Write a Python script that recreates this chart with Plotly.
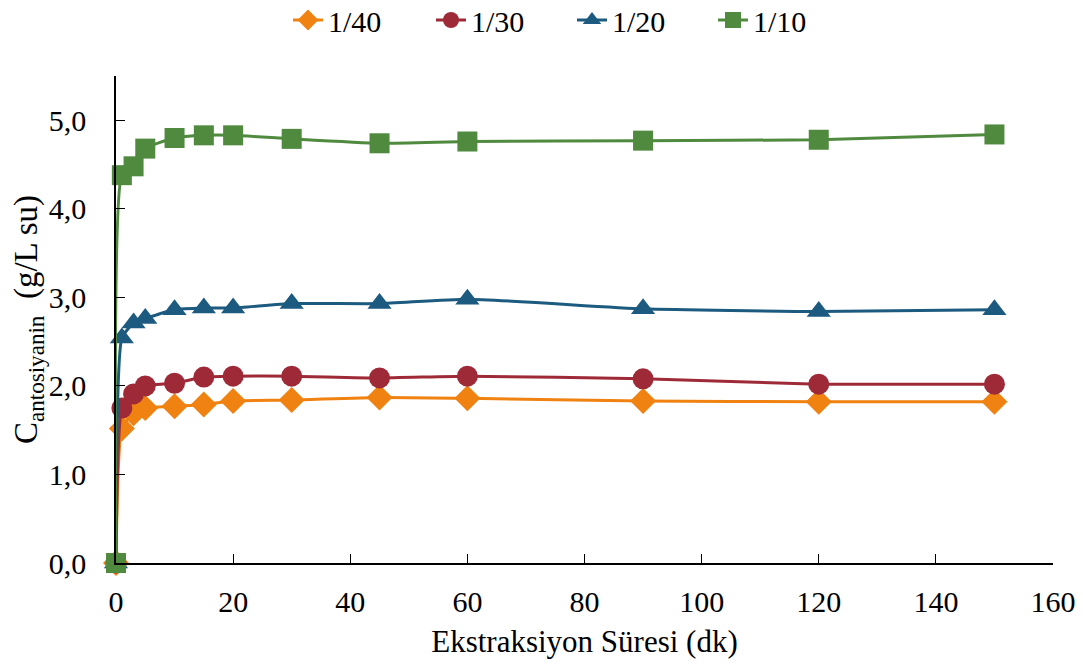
import plotly.graph_objects as go

time_min = [0, 1, 3, 5, 10, 15, 20, 30, 45, 60, 90, 120, 150]
series_names = ["1/40", "1/30", "1/20", "1/10"]
c_1_40 = [0, 1.52, 1.69, 1.75, 1.77, 1.79, 1.83, 1.84, 1.87, 1.86, 1.83, 1.82, 1.82]
c_1_30 = [0, 1.75, 1.91, 2.00, 2.03, 2.10, 2.11, 2.11, 2.09, 2.11, 2.08, 2.02, 2.02]
c_1_20 = [0, 2.54, 2.71, 2.76, 2.86, 2.88, 2.88, 2.93, 2.93, 2.98, 2.87, 2.84, 2.86]
c_1_10 = [0, 4.38, 4.48, 4.68, 4.80, 4.83, 4.83, 4.79, 4.74, 4.76, 4.77, 4.78, 4.84]
y_ticks = [0, 1, 2, 3, 4, 5]
y_tick_labels = ["0,0", "1,0", "2,0", "3,0", "4,0", "5,0"]
x_ticks = [0, 20, 40, 60, 80, 100, 120, 140, 160]

values = [c_1_40, c_1_30, c_1_20, c_1_10]
colors = ["#EF8210", "#9E2A38", "#1D5A7F", "#4F8A3F"]
symbols = ["diamond", "circle", "triangle-up", "square"]
sizes = [20, 21, 21, 20]
legend_ids = ["legend", "legend2", "legend3", "legend4"]
legend_left_px = [280, 423, 564, 705]

font = "Liberation Serif"
W, H = 1075, 656
fig = go.Figure()
for name, vals, col, sym, sz, lid in zip(series_names, values, colors, symbols, sizes, legend_ids):
    fig.add_trace(go.Scatter(
        x=time_min, y=vals, name=name, mode="lines+markers",
        line=dict(color=col, width=3, shape="spline", smoothing=0.5),
        marker=dict(symbol=sym, size=sz, color=col),
        cliponaxis=False, legend=lid, showlegend=True,
    ))

legend_cfg = {}
for lid, xl in zip(legend_ids, legend_left_px):
    legend_cfg[lid] = dict(orientation="h", x=xl / W, xanchor="left", xref="container",
                           y=1 - 12 / H, yanchor="middle", yref="container",
                           font=dict(size=30), bgcolor="rgba(0,0,0,0)", visible=True)

fig.update_layout(
    width=W, height=H, showlegend=True,
    margin=dict(l=108, r=30, t=68, b=101, autoexpand=False),
    plot_bgcolor="white", paper_bgcolor="white",
    font=dict(family=font, size=30, color="black"),
    xaxis=dict(range=[0, 160], tickvals=x_ticks, showline=True, linecolor="black",
               linewidth=1.5, ticks="inside", ticklen=9, tickcolor="black",
               showgrid=False, zeroline=False, tickfont=dict(size=30),
               ticklabelstandoff=11, automargin=False, ticklabeloverflow="allow",
               title=dict(text="Ekstraksiyon Süresi (dk)", font=dict(size=31), standoff=14)),
    yaxis=dict(range=[0, 5.5], tickvals=y_ticks, ticktext=y_tick_labels, showline=True,
               linecolor="black", linewidth=1.5, ticks="inside", ticklen=9,
               tickcolor="black", showgrid=False, zeroline=False, tickfont=dict(size=30),
               ticklabelstandoff=22, automargin=False,
               title=dict(text="C<sub>antosiyanin</sub>  (g/L su)", font=dict(size=33), standoff=0)),
    **legend_cfg,
)
fig.write_html("out.html")
